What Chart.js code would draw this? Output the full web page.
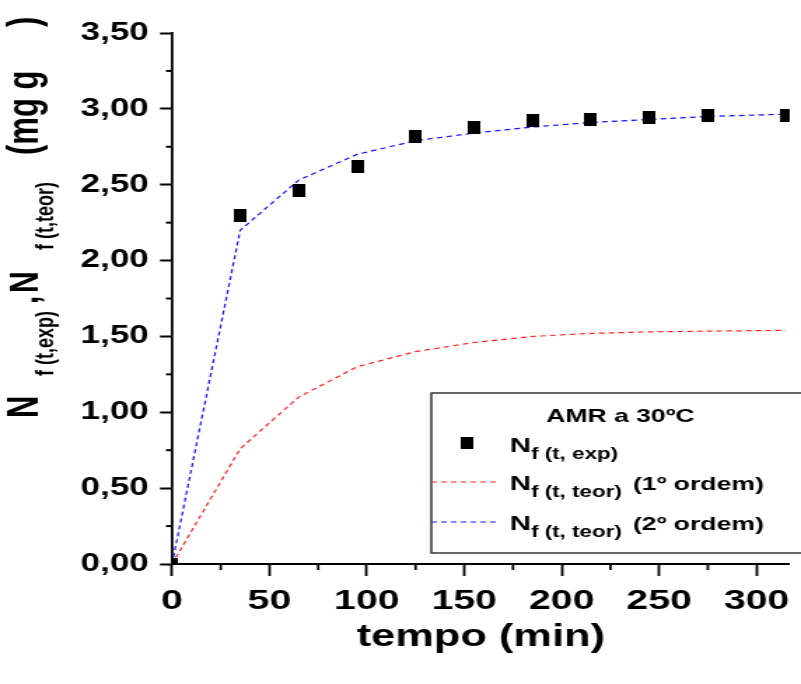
<!DOCTYPE html>
<html>
<head>
<meta charset="utf-8">
<script src="https://cdn.jsdelivr.net/npm/chart.js@4.4.0/dist/chart.umd.min.js"></script>
<style>
  html, body { margin: 0; padding: 0; background: #fff; overflow: hidden; }
  #grafico { display: block; }
</style>
</head>
<body>
<canvas id="grafico" width="572" height="684" style="width:801px;height:684px"></canvas>
<script>
// datos
const tempo = [0, 35, 65, 95, 125, 155, 185, 215, 245, 275, 315];
const nfExp = [0, 2.30, 2.46, 2.62, 2.82, 2.88, 2.92, 2.93, 2.94, 2.955, 2.955];
const nfTeor1 = [0, 0.76, 1.10, 1.30, 1.40, 1.46, 1.50, 1.52, 1.53, 1.535, 1.54];
const nfTeor2 = [0, 2.20, 2.53, 2.70, 2.79, 2.84, 2.88, 2.91, 2.93, 2.95, 2.965];
const ticksX = [0, 50, 100, 150, 200, 250, 300];
const ticksY = [0, 0.5, 1, 1.5, 2, 2.5, 3, 3.5];
const minorX = [25, 75, 125, 175, 225, 275];
const minorY = [0.25, 0.75, 1.25, 1.75, 2.25, 2.75, 3.25];

// la figura original esta estirada en horizontal
const ESTIRA = 801 / 572;
const fuente = "'Liberation Sans', Arial, sans-serif";

// marcador cuadrado (compensando el estiramiento)
const cuadrado = document.createElement("canvas");
cuadrado.width = 9;
cuadrado.height = 13;
const cctx = cuadrado.getContext("2d");
cctx.fillStyle = "#000";
cctx.fillRect(0, 0, 9, 13);

const marcasMenores = {
  id: "marcasMenores",
  afterDraw(chart) {
    const ctx = chart.ctx;
    const { x, y } = chart.scales;
    const area = chart.chartArea;
    ctx.save();
    ctx.strokeStyle = "#000";
    ctx.lineWidth = 2;
    minorY.forEach((v) => {
      const py = y.getPixelForValue(v);
      ctx.beginPath();
      ctx.moveTo(area.left - 4.3, py);
      ctx.lineTo(area.left, py);
      ctx.stroke();
    });
    ctx.lineWidth = 1.8;
    minorX.forEach((v) => {
      const px = x.getPixelForValue(v);
      ctx.beginPath();
      ctx.moveTo(px, area.bottom);
      ctx.lineTo(px, area.bottom + 6);
      ctx.stroke();
    });
    ctx.restore();
  },
};

const tituloY = {
  id: "tituloY",
  afterDraw(chart) {
    const ctx = chart.ctx;
    const partes = [
      { txt: "N", y: 418, tam: 31, sub: false },
      { txt: "f (t,exp)", y: 376, tam: 18, sub: true },
      { txt: ",", y: 304, tam: 30, sub: false },
      { txt: "N", y: 293, tam: 30, sub: false },
      { txt: "f (t,teor)", y: 250, tam: 18, sub: true },
      { txt: "(mg g", y: 155, tam: 31, sub: false },
      { txt: ")", y: 27, tam: 31, sub: false },
    ];
    ctx.save();
    ctx.fillStyle = "#000";
    ctx.textBaseline = "alphabetic";
    ctx.textAlign = "left";
    partes.forEach((p) => {
      ctx.save();
      ctx.translate(p.sub ? 37.9 : 27.1, p.y);
      ctx.rotate(-Math.PI / 2);
      ctx.font = `bold ${p.tam}px ${fuente}`;
      ctx.fillText(p.txt, 0, 0);
      ctx.restore();
    });
    ctx.restore();
  },
};

const leyenda = {
  id: "leyenda",
  afterDraw(chart) {
    const ctx = chart.ctx;
    ctx.save();
    ctx.fillStyle = "#fff";
    ctx.fillRect(308, 393, 280, 160);
    ctx.strokeStyle = "#333";
    ctx.lineWidth = 1.5;
    ctx.strokeRect(308, 393, 280, 160);

    ctx.fillStyle = "#000";
    ctx.textBaseline = "alphabetic";
    ctx.textAlign = "center";
    ctx.font = `bold 19px ${fuente}`;
    ctx.fillText("AMR a 30ºC", 443, 422);

    ctx.textAlign = "left";
    const fila = (base, sub, resto, yb) => {
      ctx.font = `bold 21px ${fuente}`;
      ctx.fillText(base, 364, yb);
      const w = ctx.measureText(base).width;
      ctx.font = `bold 16px ${fuente}`;
      ctx.fillText(sub, 364 + w, yb + 7);
      if (resto) {
        ctx.font = `bold 19px ${fuente}`;
        ctx.fillText(resto, 452, yb);
      }
    };
    fila("N", "f (t, exp)", "", 452);
    fila("N", "f (t, teor)", "(1º ordem)", 490);
    fila("N", "f (t, teor)", "(2º ordem)", 530);

    ctx.drawImage(cuadrado, 333.6 - 4.5, 443 - 6, 9, 12);

    ctx.lineWidth = 1.2;
    ctx.setLineDash([4, 3]);
    ctx.strokeStyle = "#ff2020";
    ctx.beginPath();
    ctx.moveTo(308, 482);
    ctx.lineTo(357, 482);
    ctx.stroke();
    ctx.strokeStyle = "#1010ff";
    ctx.beginPath();
    ctx.moveTo(308, 522);
    ctx.lineTo(357, 522);
    ctx.stroke();
    ctx.restore();
  },
};

const pares = (xs, ys) => xs.map((t, i) => ({ x: t, y: ys[i] }));

const ctx = document.getElementById("grafico").getContext("2d");
const grafico = new Chart(ctx, {
  type: "scatter",
  data: {
    datasets: [
      {
        label: "Nf (t, exp)",
        data: pares(tempo, nfExp),
        showLine: false,
        pointStyle: cuadrado,
        pointRadius: 6,
        pointHoverRadius: 6,
      },
      {
        label: "Nf (t, teor) (2º ordem)",
        data: pares(tempo, nfTeor2),
        showLine: true,
        borderColor: "#1010ff",
        borderWidth: 1.2,
        borderDash: [4, 3],
        pointRadius: 0,
        tension: 0,
        fill: false,
      },
      {
        label: "Nf (t, teor) (1º ordem)",
        data: pares(tempo, nfTeor1),
        showLine: true,
        borderColor: "#ff2020",
        borderWidth: 1.2,
        borderDash: [4, 3],
        pointRadius: 0,
        tension: 0,
        fill: false,
      },
    ],
  },
  options: {
    responsive: false,
    devicePixelRatio: 1,
    animation: false,
    layout: { padding: { top: 33, right: 0, bottom: 0, left: 0 } },
    plugins: {
      legend: { display: false },
      tooltip: { enabled: false },
    },
    scales: {
      x: {
        type: "linear",
        min: 0,
        max: 317,
        afterBuildTicks: (s) => { s.ticks = ticksX.map((v) => ({ value: v })); },
        afterFit: (s) => { s.height = 120; },
        border: { display: true, color: "#000", width: 2 },
        grid: { drawOnChartArea: false, drawTicks: true, tickLength: 12, tickWidth: 1.8, tickColor: "#000" },
        ticks: {
          color: "#000",
          font: { family: fuente, size: 28, weight: "bold" },
          padding: 8,
          maxRotation: 0,
          autoSkip: false,
        },
        title: {
          display: true,
          text: "tempo (min)",
          color: "#000",
          font: { family: fuente, size: 31, weight: "bold" },
          padding: { top: 0, bottom: 28 },
        },
      },
      y: {
        min: 0,
        max: 3.5,
        afterBuildTicks: (s) => { s.ticks = ticksY.map((v) => ({ value: v })); },
        afterFit: (s) => { s.width = 172 / ESTIRA; },
        border: { display: true, color: "#000", width: 1.8 },
        grid: { drawOnChartArea: false, drawTicks: true, tickLength: 8.6, tickWidth: 2, tickColor: "#000" },
        ticks: {
          color: "#000",
          font: { family: fuente, size: 25, weight: "bold" },
          padding: 8,
          callback: (v) => v.toFixed(2).replace(".", ","),
        },
      },
    },
  },
  plugins: [marcasMenores, tituloY, leyenda],
});
</script>
</body>
</html>
